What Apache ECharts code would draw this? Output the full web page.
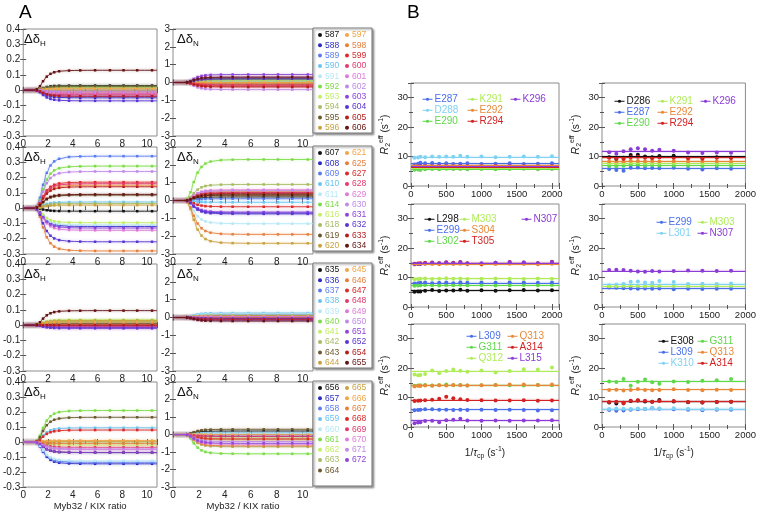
<!DOCTYPE html>
<html lang="en">
<head>
<meta charset="UTF-8">
<title>Myb32 / KIX titration and R2eff</title>
<script src="https://cdn.jsdelivr.net/npm/echarts@6/dist/echarts.min.js"></script>
<style>
  html, body { margin: 0; padding: 0; background: #fff; }
  #main { width: 759px; height: 512px; }
</style>
</head>
<body>
<div id="main"></div>
<script>
// ---------- Panel A: titration ----------
// Myb32 / KIX ratios of the titration points and the shared normalised binding profile
const ratioX    = [0, 0.8, 1.1, 1.35, 1.6, 1.9, 2.2, 2.5, 2.9, 3.7, 4.6, 5.8, 7.0, 8.1, 9.2, 10.4, 10.8];
const boundFrac = [0, 0, 0.04, 0.2, 0.45, 0.68, 0.82, 0.9, 0.95, 0.985, 0.995, 1, 1, 1, 1, 1, 1];

const resA1 = [587, 588, 589, 590, 591, 592, 593, 594, 595, 596, 597, 598, 599, 600, 601, 602, 603, 604, 605, 606];
const dH_A1 = [0.03, -0.05, 0.0, 0.02, 0.01, 0.02, 0.015, 0.02, 0.025, 0.0, 0.01, -0.01, -0.02, -0.03, -0.02, -0.01, -0.04, -0.07, -0.04, 0.13];
const dN_A1 = [0.2, -0.1, 0.05, 0.1, 0.05, 0.15, 0.1, 0.0, 0.25, -0.05, 0.0, -0.1, -0.2, -0.15, 0.3, -0.4, 0.45, 0.2, -0.25, 0.3];

const resA2 = [607, 608, 609, 610, 611, 614, 616, 618, 619, 620, 621, 625, 627, 628, 629, 630, 631, 632, 633, 634];
const dH_A2 = [-0.02, -0.12, 0.34, 0.04, -0.11, 0.275, -0.095, 0.03, 0.085, 0.02, 0.15, -0.28, 0.17, 0.16, -0.145, 0.24, -0.13, -0.22, 0.14, 0.09];
const dN_A2 = [0.2, -0.7, 0.1, -0.1, -1.3, 2.3, 0.3, 0.9, 0.35, -2.4, 0.5, -1.9, -0.35, 0.45, 0.6, 0.55, -0.65, -0.75, 0.4, 0.3];

const resA3 = [635, 636, 637, 638, 639, 640, 641, 642, 643, 644, 645, 646, 647, 648, 649, 650, 651, 652, 654, 655];
const dH_A3 = [0.02, 0.0, 0.01, 0.015, 0.02, 0.025, 0.035, 0.03, 0.01, 0.03, 0.02, 0.005, -0.005, -0.01, -0.015, -0.02, -0.015, -0.02, 0.0, 0.095];
const dN_A3 = [0.05, 0.1, 0.15, 0.25, 0.2, 0.1, 0.05, 0.0, -0.05, 0.1, 0.05, 0.0, -0.1, -0.05, 0.05, -0.1, -0.15, -0.05, -0.1, -0.2];

const resA4 = [656, 657, 658, 659, 660, 661, 662, 663, 664, 665, 666, 667, 668, 669, 670, 671, 672];
const dH_A4 = [-0.07, -0.145, -0.135, 0.095, -0.125, 0.21, -0.02, 0.0, 0.165, 0.005, 0.01, -0.01, 0.08, -0.035, -0.05, -0.045, -0.07];
const dN_A4 = [0.2, -0.1, 0.0, 0.1, 0.05, -1.1, -0.2, -0.7, 0.3, -0.3, 0.0, -0.65, -0.25, -0.1, -0.55, -0.4, -0.5];

// ---------- Panel B: R2eff relaxation dispersion ----------
const tauLeft  = [50, 100, 133, 200, 300, 400, 500, 600, 700, 800, 1000, 1200, 1400, 1600, 1800, 2000];
const tauRight = [100, 200, 300, 400, 500, 600, 700, 800, 1000, 1200, 1400, 1600, 1800];

const b1L_names = ['E287', 'D288', 'E290', 'K291', 'E292', 'R294', 'K296'];
const b1L_fit = [7.6, 9.9, 5.8, 6.1, 7.1, 6.5, 6.8];
const b1L_pts = [
  [7.3, 7.6, 7.9, 7.7, 7.8, 7.6, 7.7, 7.5, 7.6, 7.7, 7.5, 7.6, 7.7, 7.5, 7.6, 7.7],
  [9.6, 9.7, 9.9, 9.8, 10.0, 9.9, 10.0, 9.9, 10.3, 9.9, 10.0, 9.8, 9.9, 10.0, 9.9, 10.1],
  [5.5, 5.6, 5.4, 5.7, 5.8, 5.7, 5.9, 5.8, 5.8, 5.7, 5.8, 5.7, 5.8, 5.9, 5.7, 5.8],
  [6.0, 6.1, 6.0, 6.2, 6.1, 6.3, 6.1, 6.2, 6.0, 6.2, 6.1, 6.2, 6.1, 6.0, 6.2, 6.1],
  [7.0, 7.1, 6.9, 7.2, 7.0, 7.1, 7.2, 7.0, 7.1, 6.9, 7.1, 7.0, 7.2, 7.1, 7.0, 7.1],
  [6.3, 6.4, 6.5, 6.4, 6.6, 6.4, 6.5, 6.3, 6.5, 6.4, 6.5, 6.6, 6.4, 6.5, 6.4, 6.5],
  [6.7, 6.8, 6.9, 6.8, 6.7, 6.9, 6.8, 6.7, 6.9, 6.8, 6.7, 6.8, 6.9, 6.8, 6.7, 6.8]
];

const b1R_names = ['D286', 'E287', 'E290', 'K291', 'E292', 'R294', 'K296'];
const b1R_fit = [10.0, 6.0, 7.0, 7.8, 8.4, 9.6, 11.8];
const b1R_pts = [
  [9.8, 9.2, 9.6, 10.5, 10.6, 10.0, 9.8, 10.2, 10.3, 9.6, 9.5, 9.8, 9.7],
  [5.8, 5.4, 5.2, 6.2, 6.3, 6.0, 6.1, 6.0, 6.2, 5.9, 5.6, 6.0, 5.9],
  [6.8, 6.6, 6.9, 7.4, 7.3, 7.0, 7.1, 7.0, 7.0, 6.9, 6.8, 7.0, 7.0],
  [7.6, 7.4, 7.6, 8.0, 8.1, 7.8, 7.7, 7.9, 7.8, 7.7, 7.6, 7.8, 7.8],
  [8.2, 8.0, 8.1, 8.6, 8.5, 8.3, 8.4, 8.2, 8.4, 8.3, 8.2, 8.3, 8.2],
  [9.6, 9.4, 9.2, 9.8, 9.9, 9.6, 9.4, 9.7, 9.6, 9.4, 9.3, 9.6, 9.5],
  [11.5, 11.0, 11.8, 12.5, 12.8, 12.5, 12.0, 12.3, 12.0, 11.4, 11.2, 11.4, 11.3]
];

const b2L_names = ['L298', 'E299', 'L302', 'M303', 'S304', 'T305', 'N307'];
const b2L_fit = [5.6, 8.2, 7.4, 9.6, 14.6, 15.0, 14.9];
const b2L_pts = [
  [5.2, 5.3, 5.3, 5.5, 5.8, 5.4, 5.6, 5.6, 5.9, 5.5, 5.7, 5.5, 5.7, 5.8, 5.6, 5.7],
  [8.0, 8.1, 8.2, 8.3, 8.1, 8.2, 8.3, 8.1, 8.4, 8.2, 8.3, 8.2, 8.4, 8.3, 8.2, 8.3],
  [7.2, 7.3, 7.4, 7.5, 7.4, 7.3, 7.5, 7.4, 7.6, 7.4, 7.5, 7.3, 7.4, 7.5, 7.4, 7.5],
  [9.4, 9.5, 9.6, 9.7, 9.5, 9.6, 9.8, 9.6, 9.7, 9.5, 9.6, 9.7, 9.6, 9.5, 9.7, 9.6],
  [14.4, 14.5, 14.6, 14.7, 14.6, 14.5, 14.8, 14.6, 14.7, 14.5, 14.4, 14.6, 14.7, 14.6, 14.5, 14.7],
  [14.7, 14.8, 14.9, 15.0, 15.1, 14.9, 15.2, 15.0, 15.3, 14.9, 14.7, 15.0, 15.3, 15.1, 14.9, 15.4],
  [14.6, 14.7, 14.6, 14.8, 15.0, 14.9, 15.1, 14.9, 15.2, 14.8, 14.9, 15.0, 15.2, 15.1, 14.9, 15.3]
];

const b2R_names = ['E299', 'L301', 'M303', 'N307'];
const b2R_fit = [6.3, 7.9, 7.2, 12.3];
const b2R_pts = [
  [6.6, 6.5, 6.4, 6.3, 6.2, 6.3, 6.2, 6.3, 6.0, 6.2, 6.1, 6.2, 6.2],
  [7.4, 7.6, 7.8, 8.6, 8.7, 8.3, 8.2, 8.8, 8.5, 7.8, 7.9, 7.8, 8.0],
  [7.0, 7.1, 7.2, 7.3, 7.2, 7.1, 7.3, 7.2, 7.2, 7.1, 7.2, 7.3, 7.2],
  [12.6, 12.7, 12.6, 12.3, 12.1, 12.0, 12.2, 12.1, 12.2, 12.4, 12.3, 12.2, 12.3]
];

const b3L_names = ['L309', 'G311', 'Q312', 'Q313', 'A314', 'L315'];
const b3L_fit = [5.9, 14.2, 19.0, 14.2, 9.2, 2.2];
const b3L_pts = [
  [5.7, 5.8, 5.9, 6.0, 6.0, 5.9, 5.9, 5.8, 5.9, 5.8, 5.9, 5.8, 5.9, 5.8, 5.6, 5.7],
  [14.0, 14.1, 14.2, 14.3, 14.1, 14.2, 14.4, 14.2, 14.3, 14.1, 14.2, 14.3, 14.2, 14.1, 14.3, 14.2],
  [17.8, 17.6, 17.7, 18.0, 19.2, 18.3, 19.0, 19.5, 19.1, 18.8, 19.2, 18.5, 19.0, 19.6, 19.5, 20.2],
  [13.8, 14.0, 13.9, 14.1, 14.0, 14.2, 14.1, 14.3, 14.2, 14.1, 14.2, 14.3, 14.4, 14.4, 14.3, 14.4],
  [8.8, 8.9, 9.0, 9.1, 9.3, 9.6, 10.3, 9.8, 9.4, 9.2, 9.1, 9.0, 9.0, 9.1, 8.9, 9.0],
  [1.3, 1.5, 1.6, 2.0, 2.1, 1.6, 2.3, 2.5, 2.8, 2.2, 2.1, 2.2, 2.1, 2.2, 2.2, 2.3]
];

const b3R_names = ['E308', 'L309', 'K310', 'G311', 'Q313', 'A314'];
const b3R_fit = [8.6, 5.9, 6.2, 15.5, 12.7, 8.6];
const b3R_pts = [
  [8.3, 8.0, 8.2, 8.8, 9.0, 8.7, 8.6, 9.2, 8.7, 8.4, 8.3, 8.5, 8.6],
  [5.8, 5.5, 5.6, 5.9, 6.0, 6.1, 6.4, 6.2, 6.0, 5.9, 5.7, 5.9, 5.9],
  [6.1, 6.3, 6.2, 6.1, 6.3, 6.2, 6.5, 6.3, 6.4, 6.2, 6.0, 6.1, 6.2],
  [15.5, 15.3, 16.3, 14.0, 15.4, 16.1, 15.2, 14.7, 15.5, 15.3, 15.7, 15.9, 16.3],
  [12.6, 12.7, 12.4, 12.6, 12.9, 12.6, 12.5, 12.6, 12.8, 12.6, 12.5, 12.7, 12.6],
  [8.5, 8.6, 8.0, 8.9, 9.1, 8.9, 8.6, 8.8, 8.8, 8.5, 8.3, 8.5, 8.6]
];

// ---------- styling ----------
const FONT = '"Liberation Sans", Arial, sans-serif';
const palette = ['#121212', '#2c2cc4', '#5b7cf0', '#68c4f0', '#b6e8f6', '#7cdc46', '#c2ee62', '#a6bb62', '#6a592b', '#c9a23f',
                 '#f2a545', '#e57f3c', '#dc2828', '#e2386c', '#e07ad8', '#bf8ae6', '#8f45dc', '#5934d0', '#b51d1d', '#641313'];
const bCol = { k: '#111111', b: '#4a6fe8', c: '#80d2f2', g: '#5fd84a', l: '#b0ec5a', o: '#e8893a', r: '#d42222', p: '#8b3bd6' };
const resColor = {
  D286: bCol.k, E287: bCol.b, D288: bCol.c, E290: bCol.g, K291: bCol.l, E292: bCol.o, R294: bCol.r, K296: bCol.p,
  L298: bCol.k, E299: bCol.b, L301: bCol.c, L302: bCol.g, M303: bCol.l, S304: bCol.o, T305: bCol.r, N307: bCol.p,
  E308: bCol.k, L309: bCol.b, K310: bCol.c, G311: bCol.g, Q312: bCol.l, Q313: bCol.o, A314: bCol.r, L315: bCol.p
};

function fade(hex, a) {
  const n = parseInt(hex.slice(1), 16);
  return `rgba(${n >> 16},${(n >> 8) & 255},${n & 255},${a})`;
}
// plain tick numbers (no thousands separator, no float noise)
const plainNum = v => String(Math.round(v * 100) / 100);

const grid = [], xAxis = [], yAxis = [], series = [], legend = [], graphic = [];
const tickStyle = { show: true, inside: true, length: 3, lineStyle: { color: '#555', width: 1 } };

function axisBase(g, c) {
  return {
    gridIndex: g, type: 'value', min: c.min, max: c.max, interval: c.interval,
    axisLine: { show: false }, splitLine: { show: false }, axisTick: tickStyle,
    minorTick: { show: !!c.minor, splitNumber: c.minor || 1, length: 2, lineStyle: { color: '#555' } }
  };
}

function addPlot(box, xc, yc) {
  const g = grid.length;
  grid.push({ left: box[0], top: box[1], width: box[2], height: box[3], show: true, borderColor: '#8c8c8c', borderWidth: 1 });
  const xi = xAxis.length, yi = yAxis.length;
  const xLab = { fontSize: xc.fs || 10, color: '#222', margin: 3, fontFamily: FONT, formatter: plainNum };
  if (xc.hideMax) xLab.showMaxLabel = false;
  const yLab = { fontSize: yc.fs || 10, color: '#222', margin: 3, fontFamily: FONT, formatter: plainNum };
  if (yc.hideMax) yLab.showMaxLabel = false;
  xAxis.push(Object.assign(axisBase(g, xc), {
    position: 'bottom', axisLabel: xLab,
    name: xc.name || '', nameLocation: 'middle', nameGap: xc.nameGap || 15, nameTextStyle: xc.nameStyle || {}
  }));
  xAxis.push(Object.assign(axisBase(g, xc), { position: 'top', axisLabel: { show: false } }));
  yAxis.push(Object.assign(axisBase(g, yc), {
    position: 'left', axisLabel: yLab,
    name: yc.name || '', nameLocation: 'middle', nameRotate: 90, nameGap: yc.nameGap || 20, nameTextStyle: yc.nameStyle || {}
  }));
  yAxis.push(Object.assign(axisBase(g, yc), { position: 'right', axisLabel: { show: false } }));
  return { xi, yi };
}

// ---------- Panel A ----------
const rowsA = [[resA1, dH_A1, dN_A1], [resA2, dH_A2, dN_A2], [resA3, dH_A3, dN_A3], [resA4, dH_A4, dN_A4]];
const rowTopsA = [29, 147, 264, 382];
const lastPt = ratioX.length - 1;

rowsA.forEach(([res, dH, dN], r) => {
  const top = rowTopsA[r];
  const isLast = r === rowsA.length - 1;
  const xCfg = {
    min: 0, max: 10.8, interval: 2, minor: 2, hideMax: true,
    name: isLast ? 'Myb32 / KIX ratio' : '', nameGap: 12,
    nameStyle: { fontSize: 9.5, color: '#222', fontFamily: FONT }
  };
  const pH = addPlot([20, top, 137, 107], xCfg, { min: -0.3, max: 0.4, interval: 0.1 });
  const pN = addPlot([173, top, 140, 107], xCfg, { min: -3, max: 3, interval: 1 });

  res.forEach((id, j) => {
    const color = palette[j];
    [[pH, dH[j]], [pN, dN[j]]].forEach(([p, plateau]) => {
      series.push({
        type: 'line', name: String(id), xAxisIndex: p.xi, yAxisIndex: p.yi,
        smooth: 0.35, smoothMonotone: 'x', symbol: 'rect', symbolSize: 2.5, silent: true,
        lineStyle: { width: 0.9, color: color, shadowColor: fade(color, 0.45), shadowBlur: 3 },
        itemStyle: { color: color },
        data: ratioX.map((x, k) => {
          const item = { value: [x, +(plateau * boundFrac[k]).toFixed(4)] };
          if (k < 2 || k === lastPt) item.symbol = 'none';
          return item;
        })
      });
    });
  });

  // legend box
  graphic.push({
    type: 'rect', z: 1, shape: { x: 313, y: top - 1, width: 59, height: 105 },
    style: { fill: '#fff', stroke: '#777', lineWidth: 1, shadowColor: 'rgba(0,0,0,0.35)', shadowBlur: 2, shadowOffsetX: 1.5, shadowOffsetY: 1.5 }
  });
  const split = isLast ? 9 : 10;
  [res.slice(0, split), res.slice(split)].forEach((ids, c) => {
    legend.push({
      orient: 'vertical', left: c ? 345 : 318, top: top + 1, padding: 0, itemGap: 0.3,
      itemWidth: 4, itemHeight: 4, icon: 'circle', selectedMode: false,
      textStyle: { fontSize: 8.5, lineHeight: 10, fontFamily: '"Liberation Sans Narrow", "Liberation Sans", Arial, sans-serif', padding: [0, 0, 0, -2] },
      data: ids.map(id => ({ name: String(id), textStyle: { color: palette[res.indexOf(id)] } }))
    });
  });

  const labelRich = {
    a: { fontSize: 13, fontFamily: FONT, fill: '#111' },
    s: { fontSize: 8, fontFamily: FONT, fill: '#111', padding: [8, 0, 0, 0] }
  };
  graphic.push({ type: 'text', z: 5, left: 24, top: top + 4, style: { text: '{a|Δδ}{s|H}', rich: labelRich } });
  graphic.push({ type: 'text', z: 5, left: 177, top: top + 4, style: { text: '{a|Δδ}{s|N}', rich: labelRich } });
});

// ---------- Panel B ----------
const rich = {
  i: { fontStyle: 'italic', fontSize: 10.5, fontFamily: FONT, color: '#222' },
  sub: { fontSize: 7, fontFamily: FONT, color: '#222', padding: [7, 0, 0, 0] },
  sup: { fontSize: 7, fontFamily: FONT, color: '#222', padding: [0, 0, 7, 0] }
};
const rowTopsB = [83, 204, 324];
const bPlots = [
  { col: 0, row: 0, names: b1L_names, fit: b1L_fit, pts: b1L_pts, lTop: 94, lCols: [[422, 0, 3], [467, 3, 6], [510, 6, 7]] },
  { col: 1, row: 0, names: b1R_names, fit: b1R_fit, pts: b1R_pts, lTop: 96, lCols: [[614, 0, 3], [657, 3, 6], [700, 6, 7]] },
  { col: 0, row: 1, names: b2L_names, fit: b2L_fit, pts: b2L_pts, lTop: 214, lCols: [[424, 0, 3], [459, 3, 6], [521, 6, 7]] },
  { col: 1, row: 1, names: b2R_names, fit: b2R_fit, pts: b2R_pts, lTop: 217, lCols: [[656, 0, 2], [697, 2, 4]] },
  { col: 0, row: 2, names: b3L_names, fit: b3L_fit, pts: b3L_pts, lTop: 331, lCols: [[466, 0, 3], [507, 3, 6]] },
  { col: 1, row: 2, names: b3R_names, fit: b3R_fit, pts: b3R_pts, lTop: 336, lCols: [[658, 0, 3], [697, 3, 6]] }
];

bPlots.forEach(bp => {
  const left = bp.col === 0;
  const xs = left ? tauLeft : tauRight;
  const isLast = bp.row === 2;
  const p = addPlot(
    [left ? 411 : 602, rowTopsB[bp.row], left ? 148 : 146, 103],
    {
      min: 0, max: left ? 2100 : 2000, interval: 500, minor: 2, hideMax: left, fs: 9.5,
      name: isLast ? '1/{i|τ}{sub|cp} (s{sup|-1})' : '', nameGap: 19,
      nameStyle: { fontSize: 10, color: '#222', fontFamily: FONT, rich: rich }
    },
    {
      min: 0, max: 35, interval: 10, minor: 2, hideMax: true, fs: 9.5,
      name: '{i|R}{sub|2}{sup|eff} (s{sup|-1})', nameGap: 19,
      nameStyle: { fontSize: 10, color: '#222', fontFamily: FONT, rich: rich }
    }
  );
  bp.names.forEach((nm, j) => {
    const color = resColor[nm];
    const fit = bp.fit[j];
    series.push({
      type: 'line', name: nm, xAxisIndex: p.xi, yAxisIndex: p.yi, silent: true,
      symbol: 'circle', symbolSize: 4, itemStyle: { color: color },
      lineStyle: { width: 0, opacity: 0, color: color },
      data: xs.map((x, k) => [x, bp.pts[j][k]]),
      markLine: {
        silent: true, symbol: 'none', animation: false, label: { show: false },
        lineStyle: { color: color, width: 1, type: 'solid', opacity: 1 },
        data: [{ yAxis: fit }]
      },
      markArea: {
        silent: true, animation: false, itemStyle: { color: fade(color, 0.22) },
        data: [[{ yAxis: fit - 0.4 }, { yAxis: fit + 0.4 }]]
      }
    });
  });
  bp.lCols.forEach(([lx, a, b]) => {
    legend.push({
      orient: 'vertical', left: lx, top: bp.lTop, padding: 0, itemGap: 0.5,
      itemWidth: 10, itemHeight: 4, selectedMode: false,
      lineStyle: { width: 1, opacity: 1 },
      textStyle: { fontSize: 10, lineHeight: 10.5, fontFamily: FONT, padding: [0, 0, 0, -3] },
      data: bp.names.slice(a, b).map(nm => ({ name: nm, textStyle: { color: resColor[nm] } }))
    });
  });
});

// panel letters
graphic.push({ type: 'text', left: 19, top: 3, style: { text: 'A', fontSize: 19, fontFamily: FONT, fill: '#000' } });
graphic.push({ type: 'text', left: 407, top: 3, style: { text: 'B', fontSize: 19, fontFamily: FONT, fill: '#000' } });

const chart = echarts.init(document.getElementById('main'));
chart.setOption({
  animation: false,
  backgroundColor: '#fff',
  textStyle: { fontFamily: FONT },
  grid, xAxis, yAxis, series, legend, graphic
});

window.addEventListener('resize', function () {
  chart.resize();
});
</script>
</body>
</html>
